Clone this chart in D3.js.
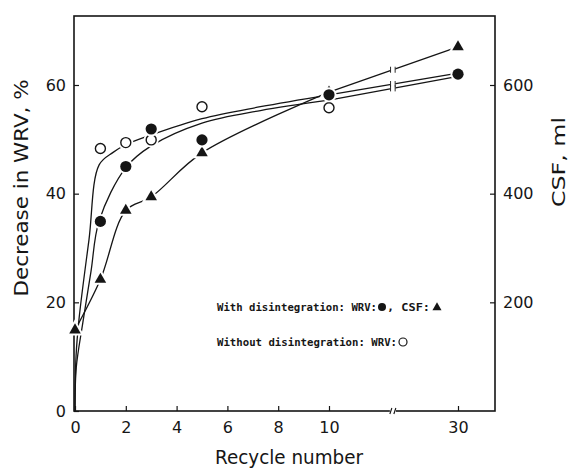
<!DOCTYPE html>
<html>
<head>
<meta charset="utf-8">
<script src="https://cdn.jsdelivr.net/npm/d3@7"></script>
<style>
  body { margin: 0; background: #fff; }
  text { fill: #161616; }
</style>
</head>
<body>
<svg id="chart"></svg>
<script>
var cyclesWith = [1, 2, 3, 5, 10, 30];
var wrvWith = [34.9, 45, 51.9, 49.9, 58.2, 62];
var cyclesWithout = [1, 2, 3, 5, 10];
var wrvWithout = [48.3, 49.4, 49.9, 56, 55.8];
var cyclesCsf = [0, 1, 2, 3, 5, 10, 30];
var csf = [149, 242, 369, 394, 475, 587, 670];

// hand drawn fit curves
var fitWithoutX = [0, 0.04, 0.16, 0.55, 0.95, 1.5, 2, 3, 5, 7.3, 10, 30];
var fitWithoutY = [0, 10, 17, 31.5, 45.3, 47.6, 49, 50.8, 53.8, 56, 58.2, 62.2];
var fitWithX = [0, 0.05, 0.31, 0.63, 0.95, 2, 3, 5, 7.3, 10, 30];
var fitWithY = [0, 8, 16.3, 25.7, 35, 44.8, 48.8, 53, 55.3, 57.2, 61.6];

var xTicks = [0, 2, 4, 6, 8, 10, 30];
var yTicks = [0, 20, 40, 60];
var csfTicks = [200, 400, 600];
var xBreak = 19.9;

var width = 569, height = 468;
var frame = { left: 74, right: 495, top: 16, bottom: 411 };

var svg = d3.select("#chart")
    .attr("width", width)
    .attr("height", height);

svg.append("rect").attr("width", width).attr("height", height).attr("fill", "#fff");

// broken x axis: 0..10 wide, 10..30 compressed
var x = d3.scaleLinear().domain([0, 10, 30]).range([75, 329, 458]);
var y = d3.scaleLinear().domain([0, 60]).range([411, 85]);
var yCsf = d3.scaleLinear().domain([0, 600]).range([411, 85]);

var ink = "#151515";

// frame
svg.append("rect")
    .attr("x", frame.left).attr("y", frame.top)
    .attr("width", frame.right - frame.left)
    .attr("height", frame.bottom - frame.top)
    .attr("fill", "none").attr("stroke", ink).attr("stroke-width", 1.6);

function styleAxis(g) {
    g.select(".domain").remove();
    g.selectAll(".tick line").attr("stroke", ink).attr("stroke-width", 1.2);
    g.selectAll(".tick text")
        .attr("font-family", "DejaVu Sans")
        .attr("font-size", 16)
        .attr("fill", "#1c1c1c");
}

svg.append("g")
    .attr("transform", "translate(0," + frame.bottom + ")")
    .call(d3.axisBottom(x).tickValues(xTicks).tickSize(-5).tickPadding(11))
    .call(styleAxis);

svg.append("g")
    .attr("transform", "translate(" + frame.left + ",0)")
    .call(d3.axisLeft(y).tickValues(yTicks).tickSize(-5).tickPadding(8))
    .call(styleAxis);

svg.append("g")
    .attr("transform", "translate(" + frame.right + ",0)")
    .call(d3.axisRight(yCsf).tickValues(csfTicks).tickSize(-5).tickPadding(8))
    .call(styleAxis);

// axis break mark on the x axis
var bx = x(xBreak);
svg.append("rect").attr("x", bx - 3).attr("y", frame.bottom - 3)
    .attr("width", 6).attr("height", 6).attr("fill", "#fff");
[-2, 2].forEach(function (d) {
    svg.append("line")
        .attr("x1", bx + d - 1).attr("y1", frame.bottom + 3)
        .attr("x2", bx + d + 1).attr("y2", frame.bottom - 3)
        .attr("stroke", ink).attr("stroke-width", 1.1);
});

// curves
var smooth = d3.line()
    .curve(d3.curveCatmullRom.alpha(0.5))
    .x(function (d) { return x(d[0]); })
    .y(function (d) { return y(d[1]); });

function drawCurve(xs, ys, scaleY) {
    var pts = xs.map(function (v, i) { return [v, scaleY === yCsf ? ys[i] / 10 : ys[i]]; });
    var head = pts.filter(function (p) { return p[0] <= 10; });
    var tail = pts.filter(function (p) { return p[0] >= 10; });
    svg.append("path")
        .attr("d", smooth(head))
        .attr("fill", "none").attr("stroke", ink).attr("stroke-width", 1.3);
    svg.append("path")
        .attr("d", d3.line().x(function (d) { return x(d[0]); }).y(function (d) { return y(d[1]); })(tail))
        .attr("fill", "none").attr("stroke", ink).attr("stroke-width", 1.3);
    // break marks on the straight part
    var a = tail[0], b = tail[tail.length - 1];
    var yb = a[1] + (b[1] - a[1]) * (xBreak - a[0]) / (b[0] - a[0]);
    var px = x(xBreak), py = y(yb);
    svg.append("rect").attr("x", px - 2.5).attr("y", py - 2)
        .attr("width", 5).attr("height", 4).attr("fill", "#fff");
    [-2.3, 2.3].forEach(function (d) {
        svg.append("line")
            .attr("x1", px + d).attr("y1", py - 3)
            .attr("x2", px + d).attr("y2", py + 3)
            .attr("stroke", ink).attr("stroke-width", 0.9);
    });
}

drawCurve(fitWithoutX, fitWithoutY, y);
drawCurve(fitWithX, fitWithY, y);
drawCurve(cyclesCsf, csf, yCsf);

// markers with a white halo
var tri = d3.symbol().type(d3.symbolTriangle).size(58);

cyclesWithout.forEach(function (c, i) {
    svg.append("circle").attr("cx", x(c)).attr("cy", y(wrvWithout[i])).attr("r", 7.5).attr("fill", "#fff");
    svg.append("circle").attr("cx", x(c)).attr("cy", y(wrvWithout[i])).attr("r", 5)
        .attr("fill", "#fff").attr("stroke", ink).attr("stroke-width", 1.4);
});

cyclesCsf.forEach(function (c, i) {
    var g = svg.append("g").attr("transform", "translate(" + x(c) + "," + yCsf(csf[i]) + ")");
    g.append("path").attr("d", tri()).attr("fill", "#fff").attr("stroke", "#fff").attr("stroke-width", 4);
    g.append("path").attr("d", tri()).attr("fill", ink);
});

cyclesWith.forEach(function (c, i) {
    svg.append("circle").attr("cx", x(c)).attr("cy", y(wrvWith[i])).attr("r", 7.5).attr("fill", "#fff");
    svg.append("circle").attr("cx", x(c)).attr("cy", y(wrvWith[i])).attr("r", 5.6).attr("fill", ink);
});

// legend: text pieces plus drawn symbols
function legendText(tx, ty, len, s) {
    svg.append("text")
        .attr("x", tx).attr("y", ty)
        .attr("font-family", "DejaVu Sans Mono").attr("font-weight", "bold").attr("font-size", 10.5)
        .attr("textLength", len).attr("lengthAdjust", "spacingAndGlyphs")
        .text(s);
}
legendText(217, 311, 160, "With disintegration: WRV:");
svg.append("circle").attr("cx", 382).attr("cy", 307).attr("r", 4).attr("fill", ink);
legendText(387, 311, 43, ", CSF:");
svg.append("path").attr("transform", "translate(437,307.5)")
    .attr("d", d3.symbol().type(d3.symbolTriangle).size(36)()).attr("fill", ink);

legendText(217, 346, 180, "Without disintegration: WRV:");
svg.append("circle").attr("cx", 403).attr("cy", 342).attr("r", 4)
    .attr("fill", "#fff").attr("stroke", ink).attr("stroke-width", 1.2);

// axis titles
svg.append("text")
    .attr("transform", "translate(28,188) rotate(-90)")
    .attr("text-anchor", "middle")
    .attr("font-family", "DejaVu Sans").attr("font-size", 20)
    .attr("textLength", 217).attr("lengthAdjust", "spacingAndGlyphs")
    .text("Decrease in WRV, %");

svg.append("text")
    .attr("x", 289).attr("y", 464)
    .attr("text-anchor", "middle")
    .attr("font-family", "DejaVu Sans").attr("font-size", 20)
    .attr("textLength", 148).attr("lengthAdjust", "spacingAndGlyphs")
    .text("Recycle number");

svg.append("text")
    .attr("transform", "translate(565,162) rotate(-90)")
    .attr("text-anchor", "middle")
    .attr("font-family", "DejaVu Sans").attr("font-size", 17)
    .attr("textLength", 90).attr("lengthAdjust", "spacingAndGlyphs")
    .text("CSF, ml");
</script>
</body>
</html>
